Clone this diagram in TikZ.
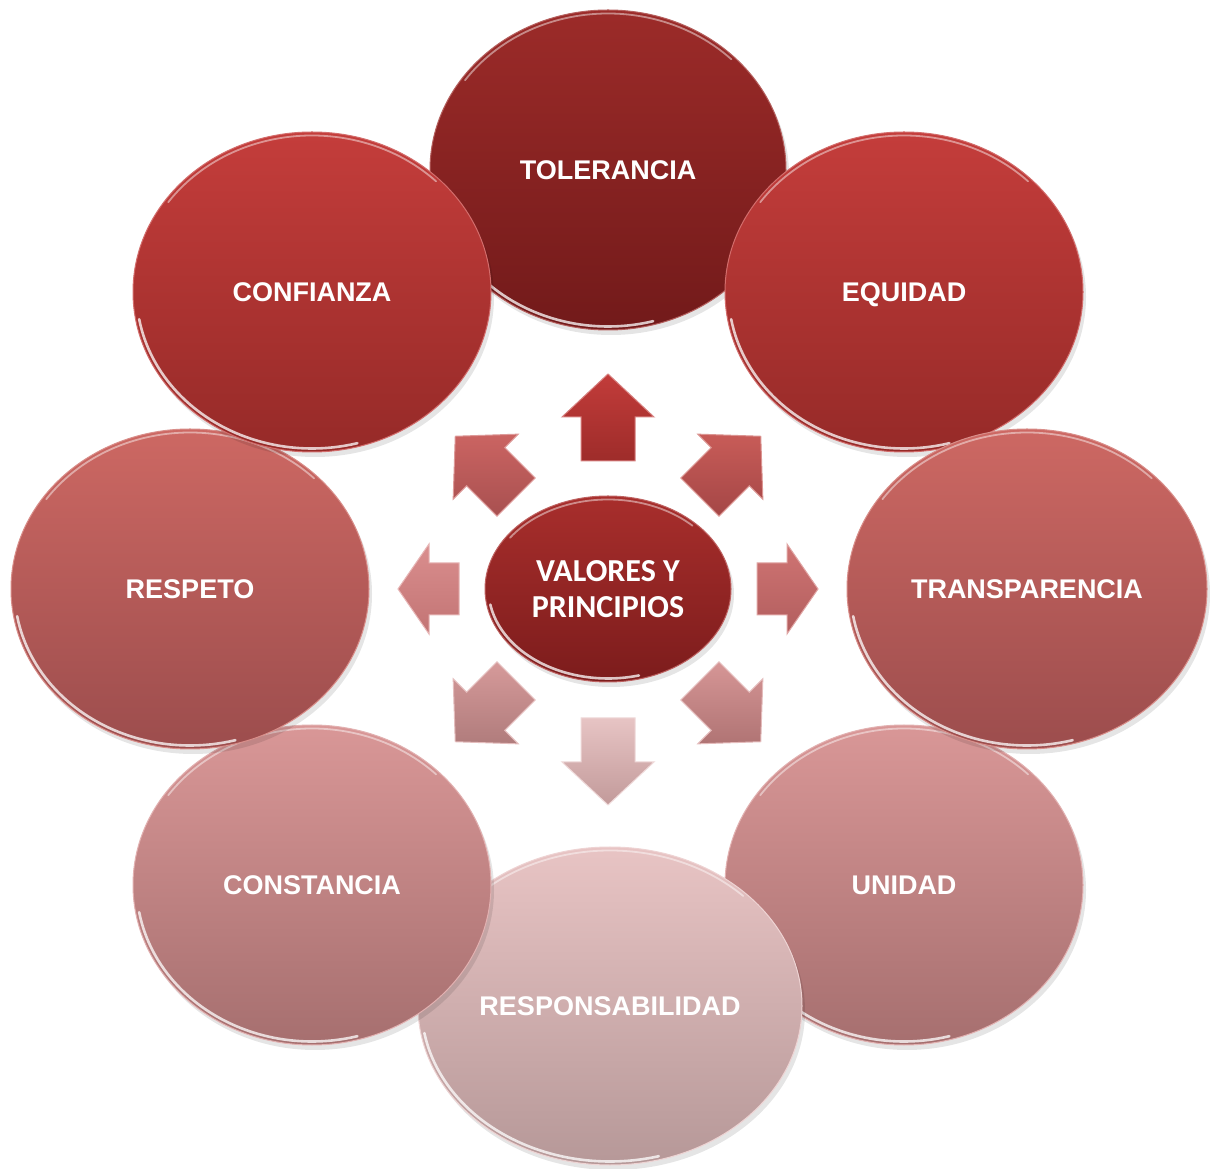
\documentclass[tikz,border=0pt]{standalone}
\usepackage{fontspec}
\setmainfont{Liberation Sans}
\newfontfamily\calib{Carlito}
\usetikzlibrary{shapes.geometric,calc}

\definecolor{tolT}{HTML}{9C2B29}\definecolor{tolB}{HTML}{721A1A}
\definecolor{redT}{HTML}{C43D3B}\definecolor{redB}{HTML}{962A28}
\definecolor{midT}{HTML}{CD6863}\definecolor{midB}{HTML}{9C4D4D}
\definecolor{pinkT}{HTML}{D99797}\definecolor{pinkB}{HTML}{A66F6F}
\definecolor{paleT}{HTML}{E8C4C4}\definecolor{paleB}{HTML}{B69898}
\definecolor{cenT}{HTML}{A82E2C}\definecolor{cenB}{HTML}{7C1C1C}
\definecolor{aN}{HTML}{C23C3A}\definecolor{aNb}{HTML}{9E2C2A}
\definecolor{aNE}{HTML}{C85C58}\definecolor{aNEb}{HTML}{A44646}
\definecolor{aE}{HTML}{CF7473}\definecolor{aEb}{HTML}{B25E5E}
\definecolor{aSE}{HTML}{D69696}\definecolor{aSEb}{HTML}{B07474}
\definecolor{aS}{HTML}{E7C4C4}\definecolor{aSb}{HTML}{C29A9A}
\definecolor{aSW}{HTML}{D69A9A}\definecolor{aSWb}{HTML}{B07C7C}
\definecolor{aW}{HTML}{DA8E8E}\definecolor{aWb}{HTML}{C27474}
\definecolor{aNW}{HTML}{CB6462}\definecolor{aNWb}{HTML}{A85050}

\tikzset{
  bubbletext/.style={font=\fontsize{27}{30}\selectfont\bfseries, text=white,
                     text height=19.5pt, text depth=0pt},
  centertext/.style={font=\calib\fontsize{32}{36}\selectfont\bfseries, text=white, align=center},
  rimlow/.style={white, line width=2.6pt, opacity=0.75, line cap=round},
  rimtop/.style={white, line width=1.8pt, opacity=0.45, line cap=round},
  bshadow/.style={black, opacity=0.10},
}

% name, x, y, rx, ry, top colour, bottom colour, text, text style
\newcommand\bubble[9]{%
  \fill[bshadow] (#2+3,#3-5) ellipse [x radius=#4, y radius=#5];
  \node[ellipse, inner sep=0pt, minimum width={2*#4pt}, minimum height={2*#5pt},
        top color=#6, bottom color=#7, draw=#6!75!white, line width=1pt, #9]
        (#1) at (#2,#3) {#8};
  \draw[rimlow] (#1.center) ++(190:{#4-3.5} and {#5-3.5})
     arc[start angle=190, end angle=285, x radius={#4-3.5}, y radius={#5-3.5}];
  \draw[rimtop] (#1.center) ++(45:{#4-3.5} and {#5-3.5})
     arc[start angle=45, end angle=145, x radius={#4-3.5}, y radius={#5-3.5}];
}

% angle, r0, r1, head length, shaft half-width, head half-width, top colour, bottom colour
\newcommand\barrow[8]{%
  \path[top color=#7, bottom color=#8, draw=#7!65!white, line width=1pt, line join=miter]
   ($(C)+(#1:#2)+({#1+90}:#5)$) --
   ($(C)+(#1:{#3-#4})+({#1+90}:#5)$) --
   ($(C)+(#1:{#3-#4})+({#1+90}:#6)$) --
   ($(C)+(#1:#3)$) --
   ($(C)+(#1:{#3-#4})+({#1-90}:#6)$) --
   ($(C)+(#1:{#3-#4})+({#1-90}:#5)$) --
   ($(C)+(#1:#2)+({#1-90}:#5)$) -- cycle;
}

\begin{document}
\begin{tikzpicture}[x=1pt, y=1pt]
\useasboundingbox[fill=white] (0,0) rectangle (1210,1168);
\coordinate (C) at (608,579);

\bubble{tol}{608}{998}{178}{160}{tolT}{tolB}{TOLERANCIA}{bubbletext}
\bubble{equ}{904}{876}{179}{160}{redT}{redB}{EQUIDAD}{bubbletext}
\bubble{uni}{904}{283}{179}{160}{pinkT}{pinkB}{UNIDAD}{bubbletext}
\bubble{resp}{610}{162}{192}{159}{paleT}{paleB}{RESPONSABILIDAD}{bubbletext}
\bubble{cons}{312}{283}{179}{160}{pinkT}{pinkB}{CONSTANCIA}{bubbletext}
\bubble{tra}{1027}{579}{180}{160}{midT}{midB}{TRANSPARENCIA}{bubbletext}
\bubble{res}{190}{579}{179}{160}{midT}{midB}{RESPETO}{bubbletext}
\bubble{conf}{312}{876}{179}{160}{redT}{redB}{CONFIANZA}{bubbletext}

\barrow{90}{128}{215}{43}{27}{46}{aN}{aNb}
\barrow{45}{130}{216}{43}{27}{46}{aNE}{aNEb}
\barrow{0}{149}{210}{31}{26}{45}{aE}{aEb}
\barrow{-45}{130}{216}{43}{27}{46}{aSE}{aSEb}
\barrow{-90}{129}{216}{43}{27}{46}{aS}{aSb}
\barrow{-135}{130}{216}{43}{27}{46}{aSW}{aSWb}
\barrow{180}{149}{210}{31}{26}{45}{aW}{aWb}
\barrow{135}{130}{216}{43}{27}{46}{aNW}{aNWb}

\bubble{cen}{608}{579}{123}{93}{cenT}{cenB}{VALORES Y\\PRINCIPIOS}{centertext}
\end{tikzpicture}
\end{document}
